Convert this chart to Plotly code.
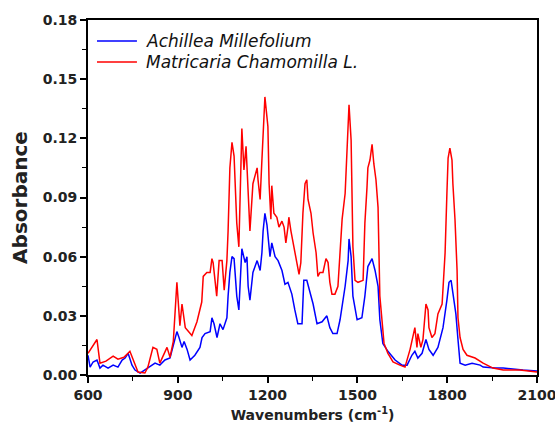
import plotly.graph_objects as go

# Achillea Millefolium (blue)
wn_achillea = [600, 607, 617, 630, 640, 650, 667, 684, 700, 714, 724, 734, 747, 757, 774, 790,
               807, 824, 840, 857, 874, 885, 897, 904, 914, 921, 931, 941, 957, 974, 981, 991,
               1008, 1014, 1021, 1031, 1041, 1051, 1064, 1068, 1074, 1081, 1088, 1097, 1104,
               1114, 1125, 1131, 1135, 1141, 1151, 1165, 1175, 1181, 1185, 1191, 1198, 1208,
               1214, 1225, 1235, 1248, 1258, 1268, 1281, 1291, 1301, 1315, 1321, 1331, 1342,
               1352, 1365, 1382, 1398, 1408, 1418, 1432, 1442, 1452, 1459, 1469, 1472, 1479,
               1485, 1499, 1515, 1525, 1535, 1549, 1559, 1569, 1575, 1585, 1602, 1626, 1649,
               1666, 1682, 1692, 1702, 1716, 1729, 1739, 1753, 1769, 1786, 1799, 1806, 1813,
               1819, 1829, 1836, 1843, 1860, 1883, 1910, 1920, 1960, 1987, 2053, 2100]
abs_achillea = [0.010, 0.004, 0.0066, 0.0076, 0.0035, 0.005, 0.0035, 0.005, 0.004, 0.0076, 0.0086,
                0.011, 0.005, 0.0025, 0.001, 0.0025, 0.004, 0.006, 0.005, 0.0076, 0.0086, 0.015,
                0.022, 0.019, 0.014, 0.017, 0.013, 0.0076, 0.010, 0.014, 0.019, 0.021, 0.022,
                0.029, 0.026, 0.019, 0.026, 0.023, 0.029, 0.040, 0.052, 0.060, 0.059, 0.040,
                0.033, 0.064, 0.057, 0.060, 0.045, 0.038, 0.052, 0.058, 0.053, 0.062, 0.073,
                0.082, 0.076, 0.060, 0.067, 0.060, 0.058, 0.053, 0.046, 0.047, 0.041, 0.033,
                0.026, 0.026, 0.048, 0.048, 0.041, 0.036, 0.026, 0.027, 0.030, 0.024, 0.021,
                0.021, 0.028, 0.038, 0.045, 0.058, 0.069, 0.060, 0.040, 0.028, 0.029, 0.040,
                0.055, 0.059, 0.053, 0.045, 0.028, 0.016, 0.012, 0.0076, 0.005, 0.005, 0.010,
                0.012, 0.0086, 0.011, 0.018, 0.013, 0.010, 0.014, 0.024, 0.038, 0.047, 0.048,
                0.041, 0.031, 0.018, 0.006, 0.005, 0.006, 0.005, 0.004, 0.0035, 0.0035, 0.0025,
                0.002]

# Matricaria Chamomilla L. (red)
wn_matricaria = [600, 630, 640, 660, 684, 700, 720, 740, 767, 790, 800, 817, 830, 840, 864, 874,
                 885, 897, 907, 914, 925, 947, 964, 980, 985, 997, 1008, 1014, 1018, 1030, 1038,
                 1048, 1055, 1064, 1068, 1074, 1081, 1088, 1097, 1104, 1114, 1121, 1128, 1135,
                 1141, 1151, 1165, 1168, 1175, 1181, 1185, 1191, 1201, 1205, 1211, 1214, 1221,
                 1231, 1238, 1248, 1255, 1261, 1268, 1271, 1278, 1285, 1298, 1305, 1311, 1318,
                 1325, 1331, 1335, 1345, 1352, 1362, 1368, 1375, 1385, 1395, 1402, 1408, 1415,
                 1425, 1435, 1442, 1449, 1459, 1465, 1469, 1472, 1479, 1482, 1485, 1492, 1502,
                 1519, 1525, 1532, 1535, 1542, 1549, 1555, 1562, 1569, 1572, 1575, 1582, 1589,
                 1602, 1619, 1642, 1659, 1676, 1686, 1692, 1699, 1702, 1712, 1719, 1729, 1736,
                 1739, 1749, 1759, 1769, 1783, 1793, 1799, 1803, 1809, 1816, 1819, 1826, 1833,
                 1836, 1843, 1853, 1866, 1893, 1920, 1953, 1987, 2043, 2100]
abs_matricaria = [0.011, 0.018, 0.006, 0.007, 0.0096, 0.008, 0.009, 0.012, 0.0015, 0.001, 0.004,
                  0.014, 0.013, 0.006, 0.014, 0.009, 0.017, 0.047, 0.025, 0.036, 0.024, 0.020,
                  0.027, 0.037, 0.050, 0.052, 0.052, 0.059, 0.057, 0.040, 0.058, 0.058, 0.043,
                  0.058, 0.073, 0.105, 0.118, 0.111, 0.077, 0.065, 0.125, 0.104, 0.116, 0.092,
                  0.073, 0.097, 0.105, 0.099, 0.089, 0.109, 0.126, 0.141, 0.126, 0.097, 0.079,
                  0.096, 0.082, 0.080, 0.075, 0.078, 0.075, 0.067, 0.075, 0.080, 0.073, 0.067,
                  0.058, 0.051, 0.057, 0.082, 0.097, 0.099, 0.089, 0.082, 0.072, 0.062, 0.050,
                  0.052, 0.052, 0.059, 0.057, 0.047, 0.041, 0.041, 0.045, 0.065, 0.079, 0.092,
                  0.116, 0.126, 0.137, 0.119, 0.090, 0.065, 0.048, 0.047, 0.048, 0.077, 0.095,
                  0.105, 0.109, 0.117, 0.107, 0.099, 0.085, 0.065, 0.040, 0.028, 0.016, 0.011,
                  0.0066, 0.005, 0.004, 0.013, 0.019, 0.024, 0.014, 0.021, 0.014, 0.018, 0.036,
                  0.033, 0.024, 0.019, 0.021, 0.031, 0.036, 0.062, 0.092, 0.110, 0.115, 0.109,
                  0.097, 0.079, 0.053, 0.029, 0.019, 0.013, 0.010, 0.0086, 0.006, 0.0035, 0.0025,
                  0.0025, 0.0015]

series_names = ["Achillea Millefolium", "Matricaria Chamomilla L."]
series_colors = ["#0000FF", "#FF0000"]

x_ticks = [600, 900, 1200, 1500, 1800, 2100]
y_ticks = [0.00, 0.03, 0.06, 0.09, 0.12, 0.15, 0.18]

fig = go.Figure()
for wn, ab, name, col in zip([wn_achillea, wn_matricaria], [abs_achillea, abs_matricaria],
                             series_names, series_colors):
    fig.add_trace(go.Scatter(x=wn, y=ab, mode="lines", name=name,
                             line=dict(color=col, width=1.5), showlegend=False))

# legend drawn as lines + italic text inside the plot area
legend_rows_y = [0.941, 0.882]
for name, col, ly in zip(series_names, series_colors, legend_rows_y):
    fig.add_shape(type="line", xref="paper", yref="paper", x0=0.020, x1=0.109, y0=ly, y1=ly,
                  line=dict(color=col, width=1.5))
    fig.add_annotation(xref="paper", yref="paper", x=0.125, y=ly, xanchor="left", yanchor="middle",
                       text=f"<i>{name}</i>", showarrow=False,
                       font=dict(family="DejaVu Sans", size=17, color="#111111"))

tick_font = dict(family="DejaVu Sans", size=14, color="#222222")
fig.update_layout(
    width=555, height=432,
    margin=dict(l=88, r=18, t=20, b=57, autoexpand=False),
    paper_bgcolor="white", plot_bgcolor="white",
    font=dict(family="DejaVu Sans", color="black"),
    showlegend=False,
    xaxis=dict(range=[600, 2100], tickvals=x_ticks,
               ticktext=[f"<b>{v}</b>" for v in x_ticks],
               ticks="outside", ticklen=6, tickwidth=1.5, tickcolor="black",
               minor=dict(dtick=150, ticks="outside", ticklen=4, tickwidth=1.2, tickcolor="black"),
               showline=True, linecolor="black", linewidth=2, mirror=True,
               showgrid=False, zeroline=False, tickfont=tick_font, automargin=False,
               ticklabeloverflow="allow",
               title=dict(text="<b>Wavenumbers (cm<sup>-1</sup>)</b>",
                          font=dict(family="DejaVu Sans", size=14, color="#222222"),
                          standoff=8)),
    yaxis=dict(range=[0, 0.18], tickvals=y_ticks,
               ticktext=[f"<b>{v:.2f}</b>" for v in y_ticks],
               ticks="outside", ticklen=6, tickwidth=1.5, tickcolor="black",
               minor=dict(dtick=0.015, ticks="outside", ticklen=4, tickwidth=1.2, tickcolor="black"),
               showline=True, linecolor="black", linewidth=2, mirror=True,
               showgrid=False, zeroline=False, tickfont=tick_font, automargin=False,
               ticklabeloverflow="allow",
               title=dict(text="<b>Absorbance</b>",
                          font=dict(family="DejaVu Sans", size=20, color="#222222"),
                          standoff=10)),
)

fig.write_html("out.html", config={"displayModeBar": False},
               post_script="document.body.style.margin='0';")
